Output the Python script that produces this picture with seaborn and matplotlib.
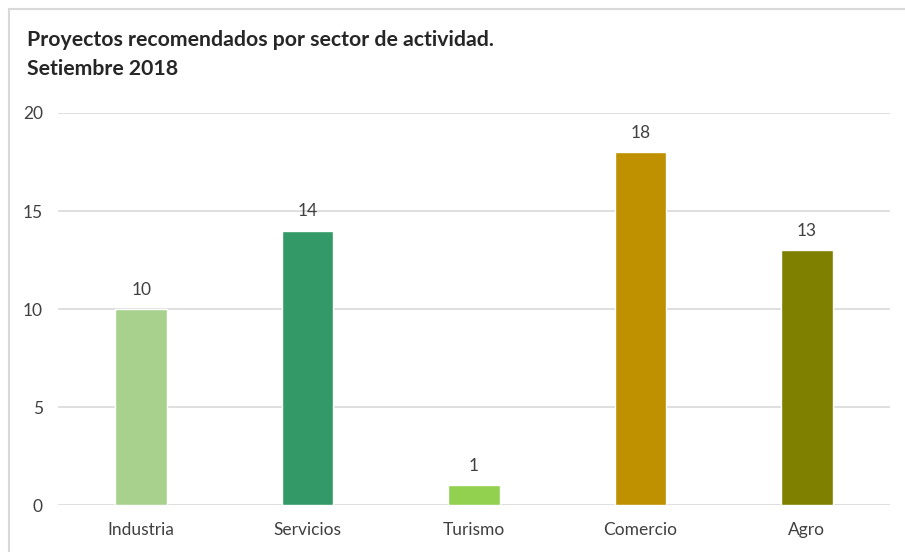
import pandas as pd
import matplotlib.pyplot as plt
import matplotlib.patches as mpatches
import seaborn as sns

# data
sectores = ['Industria', 'Servicios', 'Turismo', 'Comercio', 'Agro']
proyectos = [10, 14, 1, 18, 13]
colores = ['#A9D18E', '#339966', '#92D050', '#BF9000', '#808000']

df = pd.DataFrame({'Sector': sectores, 'Proyectos': proyectos})

sns.set_style('white')
plt.rcParams['font.family'] = ['Lato', 'DejaVu Sans']

fig = plt.figure(figsize=(9.05, 5.52), dpi=100)
ax = fig.add_axes([0.0641, 0.0851, 0.9193, 0.7102])

sns.barplot(data=df, x='Sector', y='Proyectos', hue='Sector', palette=colores,
            width=0.31, legend=False, ax=ax, saturation=1)

# value labels
for cont in ax.containers:
    ax.bar_label(cont, padding=8, fontsize=12.5, color='#404040')

ax.set_ylim(0, 20)
ax.set_yticks([0, 5, 10, 15, 20])
ax.set_xlim(-0.5, 4.5)
ax.yaxis.grid(True, color='#D9D9D9', linewidth=1.2)
ax.set_axisbelow(True)
for s in ax.spines.values():
    s.set_visible(False)
ax.set_xlabel('')
ax.set_ylabel('')
ax.tick_params(axis='x', length=0, pad=12, labelsize=12.5, labelcolor='#404040')
ax.tick_params(axis='y', length=0, pad=11, labelsize=12.5, labelcolor='#404040')

# title
fig.text(27 / 905, 1 - 30 / 552,
         'Proyectos recomendados por sector de actividad.\nSetiembre 2018',
         ha='left', va='top', fontsize=15.3, fontweight='bold', color='#262626',
         linespacing=1.55)

# chart border
fig.patches.append(mpatches.Rectangle((8.5 / 905, -0.1), 1.1, 1 - 8.5 / 552 + 0.1,
                                      transform=fig.transFigure, fill=False,
                                      edgecolor='#D9D9D9', linewidth=1.5))

fig.savefig('out.png', dpi=100)
